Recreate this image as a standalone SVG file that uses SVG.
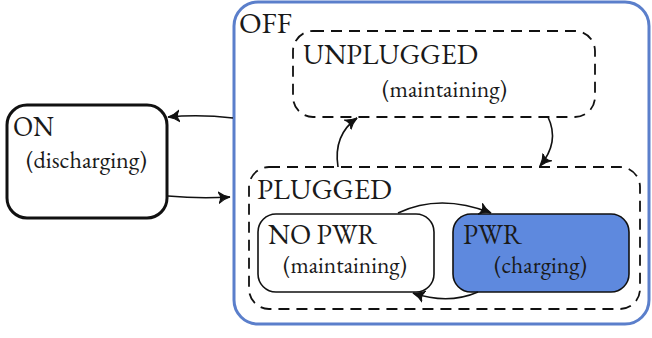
<svg xmlns="http://www.w3.org/2000/svg" width="652" height="338" viewBox="0 0 652 338">
<defs>
<style>
.t{font-family:"EB Garamond","Liberation Serif",serif;fill:#1a1a1a}
.big{font-size:28px}
.sm{font-size:24px}
.dash{fill:none;stroke:#111;stroke-width:1.8;stroke-dasharray:11,7}
.conn path{fill:none;stroke:#111;stroke-width:1.6}
</style>
<marker id="ah" viewBox="-10 -6 12 12" refX="0" refY="0" markerWidth="14" markerHeight="14" markerUnits="userSpaceOnUse" orient="auto">
<path d="M0,0 Q-6,-1.5 -10,-5 Q-6,0 -10,5 Q-6,1.5 0,0 z" fill="#111" stroke="#111" stroke-width="1"/>
</marker>
</defs>
<rect width="652" height="338" fill="#fff"/>
<g id="off">
<rect x="234" y="2" width="415" height="322" rx="24" fill="none" stroke="#5B7FCB" stroke-width="3"/>
<text class="t big" x="239" y="33" textLength="53" lengthAdjust="spacingAndGlyphs">OFF</text>
</g>
<g id="on">
<rect x="7" y="105" width="160" height="113" rx="20" fill="#fff" stroke="#111" stroke-width="3"/>
<text class="t big" x="13" y="136" textLength="41" lengthAdjust="spacingAndGlyphs">ON</text>
<text class="t sm" x="26" y="168" textLength="121" lengthAdjust="spacingAndGlyphs">(discharging)</text>
</g>
<g id="unplugged">
<rect x="293" y="31" width="302" height="86" rx="20" class="dash"/>
<text class="t big" x="303" y="64" textLength="175" lengthAdjust="spacingAndGlyphs">UNPLUGGED</text>
<text class="t sm" x="382" y="97" textLength="125" lengthAdjust="spacingAndGlyphs">(maintaining)</text>
</g>
<g id="plugged">
<rect x="249" y="167" width="391" height="142" rx="20" class="dash"/>
<text class="t big" x="257" y="199" textLength="135" lengthAdjust="spacingAndGlyphs">PLUGGED</text>
</g>
<g id="nopwr">
<rect x="258" y="214" width="176" height="78" rx="18" fill="#fff" stroke="#111" stroke-width="1.6"/>
<text class="t big" x="268" y="244" textLength="109" lengthAdjust="spacingAndGlyphs">NO PWR</text>
<text class="t sm" x="283" y="273" textLength="124" lengthAdjust="spacingAndGlyphs">(maintaining)</text>
</g>
<g id="pwr">
<rect x="453" y="214" width="176" height="78" rx="18" fill="#5E89DE" stroke="#111" stroke-width="1.6"/>
<text class="t big" x="463" y="244" textLength="59" lengthAdjust="spacingAndGlyphs">PWR</text>
<text class="t sm" x="494" y="273" textLength="93" lengthAdjust="spacingAndGlyphs">(charging)</text>
</g>
<g class="conn" id="connectors">
<path d="M233,118 Q200,114 168,117" marker-end="url(#ah)"/>
<path d="M168,196 Q200,199 230,197" marker-end="url(#ah)"/>
<path d="M338,167 Q333,135 357,118" marker-end="url(#ah)"/>
<path d="M548,117 Q560,142 540,166" marker-end="url(#ah)"/>
<path d="M398,213 Q440,193 491,213" marker-end="url(#ah)"/>
<path d="M478,292 Q448,305 413,293" marker-end="url(#ah)"/>
</g>
</svg>
